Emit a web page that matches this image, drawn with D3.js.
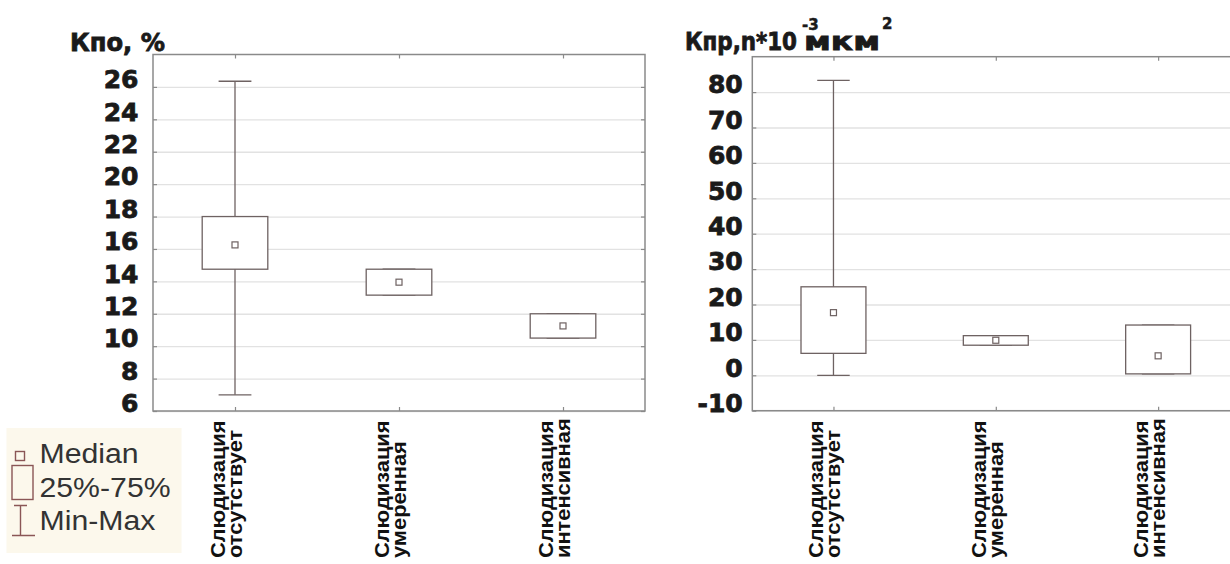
<!DOCTYPE html>
<html>
<head>
<meta charset="utf-8">
<script src="https://cdn.jsdelivr.net/npm/d3@7"></script>
<style>
  body { margin: 0; background: #fff; }
  svg { display: block; }
</style>
</head>
<body>
<div id="viz"></div>
<script>
var categories = ['Слюдизация\nотсутствует', 'Слюдизация\nумеренная', 'Слюдизация\nинтенсивная'];

// Кпо, %
var kpoMin    = [7.0, 13.15, 10.5];
var kpoQ1     = [14.75, 13.15, 10.5];
var kpoMedian = [16.25, 13.95, 11.25];
var kpoQ3     = [18.0, 14.75, 12.0];
var kpoMax    = [26.35, 14.75, 12.0];
var kpoTicks  = [6, 8, 10, 12, 14, 16, 18, 20, 22, 24, 26];

// Кпр
var kprMin    = [0.0, 8.5, 0.4];
var kprQ1     = [6.2, 8.5, 0.4];
var kprMedian = [17.7, 9.9, 5.5];
var kprQ3     = [25.0, 11.2, 14.2];
var kprMax    = [83.3, 11.2, 14.2];
var kprTicks  = [-10, 0, 10, 20, 30, 40, 50, 60, 70, 80];

var legendItems = ['Median', '25%-75%', 'Min-Max'];

var frameColor = '#8a8a8a',
    gridColor = '#e2e2e2',
    boxColor = '#6e6262',
    legendColor = '#8a5656',
    inkColor = '#1a1a1a';

var svg = d3.select('#viz').append('svg')
    .attr('width', 1230)
    .attr('height', 564);

function heavy(t, size) {
  t.style('font-family', 'DejaVu Sans')
   .style('font-weight', 'bold')
   .style('font-size', size + 'px')
   .style('fill', inkColor)
   .style('stroke', inkColor)
   .style('stroke-width', 0.8);
  return t;
}

function drawPanel(p) {
  var g = svg.append('g')
      .attr('transform', 'translate(' + p.left + ',' + p.top + ')');

  var x = d3.scalePoint()
      .domain(categories)
      .range([0, p.width])
      .padding(0.5);
  var y = d3.scaleLinear()
      .domain(p.domain)
      .range([p.height, 0]);
  var step = x.step();

  var rows = categories.map(function(c, i) {
    return { cat: c, min: p.min[i], q1: p.q1[i], med: p.median[i], q3: p.q3[i], max: p.max[i] };
  });

  // grid lines
  g.append('g')
      .call(d3.axisLeft(y).tickValues(p.ticks).tickSize(-p.width).tickFormat(''))
      .call(function(a) { a.select('.domain').remove(); })
      .selectAll('line')
      .attr('stroke', gridColor)
      .attr('stroke-width', 1.3);

  // frame
  g.append('rect')
      .attr('width', p.width)
      .attr('height', p.height)
      .attr('fill', 'none')
      .attr('stroke', frameColor)
      .attr('stroke-width', 1.5);

  // small inner ticks
  var tickAxes = [
    [d3.axisLeft(y).tickValues(p.ticks), '0,0'],
    [d3.axisRight(y).tickValues(p.ticks), p.width + ',0'],
    [d3.axisTop(x), '0,0'],
    [d3.axisBottom(x), '0,' + p.height]
  ];
  tickAxes.forEach(function(t) {
    g.append('g')
        .attr('transform', 'translate(' + t[1] + ')')
        .call(t[0].tickSize(-4).tickFormat(''))
        .call(function(a) { a.select('.domain').remove(); })
        .selectAll('line')
        .attr('stroke', frameColor)
        .attr('stroke-width', 1.2);
  });

  // y tick labels (plain hyphen for negatives, as in the original)
  g.append('g')
      .call(d3.axisLeft(y).tickValues(p.ticks).tickSize(0).tickPadding(p.pad)
        .tickFormat(function(d) { return String(d); }))
      .call(function(a) { a.select('.domain').remove(); })
      .selectAll('text')
      .attr('dy', '0.03em')
      .call(heavy, 25);

  // whiskers
  var box = g.selectAll('.box').data(rows).enter().append('g')
      .attr('transform', function(d) { return 'translate(' + x(d.cat) + ',0)'; });

  box.append('line')
      .attr('y1', function(d) { return y(d.min); })
      .attr('y2', function(d) { return y(d.max); })
      .attr('stroke', boxColor)
      .attr('stroke-width', 1.3);

  ['min', 'max'].forEach(function(k) {
    box.append('line')
        .attr('x1', -step * 0.1)
        .attr('x2', step * 0.1)
        .attr('y1', function(d) { return y(d[k]); })
        .attr('y2', function(d) { return y(d[k]); })
        .attr('stroke', boxColor)
        .attr('stroke-width', 1.3);
  });

  box.append('rect')
      .attr('x', -step * 0.2)
      .attr('width', step * 0.4)
      .attr('y', function(d) { return y(d.q3); })
      .attr('height', function(d) { return y(d.q1) - y(d.q3); })
      .attr('fill', '#fff')
      .attr('stroke', boxColor)
      .attr('stroke-width', 1.3);

  box.append('rect')
      .attr('x', -3)
      .attr('width', 6)
      .attr('y', function(d) { return y(d.med) - 3; })
      .attr('height', 6)
      .attr('fill', '#fff')
      .attr('stroke', boxColor)
      .attr('stroke-width', 1.2);

  // category labels, rotated
  var lab = g.selectAll('.cat').data(categories).enter().append('text')
      .attr('transform', function(d) {
        return 'translate(' + x(d) + ',' + (558 - p.top) + ') rotate(-90) scale(1.04,1)';
      })
      .style('font-family', 'Liberation Sans')
      .style('font-weight', 'bold')
      .style('font-size', '21px')
      .style('fill', '#111');
  lab.selectAll('tspan')
      .data(function(d) { return d.split('\n'); })
      .enter().append('tspan')
      .attr('x', 0)
      .attr('y', function(d, i) { return i === 0 ? -10 : 7; })
      .text(function(d) { return d; });
}

drawPanel({
  left: 153, top: 54.5, width: 492, height: 356.5,
  domain: [6, 28], ticks: kpoTicks, pad: 14.5,
  min: kpoMin, q1: kpoQ1, median: kpoMedian, q3: kpoQ3, max: kpoMax
});

drawPanel({
  left: 752.3, top: 56.7, width: 487, height: 354,
  domain: [-10, 90], ticks: kprTicks, pad: 9.6,
  min: kprMin, q1: kprQ1, median: kprMedian, q3: kprQ3, max: kprMax
});

// titles
svg.append('text').attr('x', 70).attr('y', 50.5)
    .attr('textLength', 95).attr('lengthAdjust', 'spacingAndGlyphs')
    .call(heavy, 24).text('Кпо, %');

var t2 = svg.append('text').call(heavy, 24);
t2.append('tspan').attr('x', 685).attr('y', 50)
    .attr('textLength', 112).attr('lengthAdjust', 'spacingAndGlyphs')
    .text('Кпр,n*10');
t2.append('tspan').attr('x', 802).attr('y', 30)
    .style('font-size', '15px').style('stroke-width', 0.5)
    .text('-3');
t2.append('tspan').attr('x', 804).attr('y', 50)
    .attr('textLength', 76).attr('lengthAdjust', 'spacingAndGlyphs')
    .text('мкм');
t2.append('tspan').attr('x', 882).attr('y', 29)
    .style('font-size', '15px').style('stroke-width', 0.5)
    .text('2');

// legend
var legend = svg.append('g');
legend.append('rect')
    .attr('x', 6.5).attr('y', 428)
    .attr('width', 175).attr('height', 125)
    .attr('fill', '#fcf8ec');

legend.append('rect')
    .attr('x', 15.5).attr('y', 451.5).attr('width', 9).attr('height', 9)
    .attr('fill', 'none').attr('stroke', legendColor).attr('stroke-width', 1.4);
legend.append('rect')
    .attr('x', 12).attr('y', 465.5).attr('width', 21).attr('height', 34)
    .attr('fill', 'none').attr('stroke', legendColor).attr('stroke-width', 1.4);
legend.append('path')
    .attr('d', 'M14,505.5H27M20.5,505.5V535.5M12,535.5H35')
    .attr('fill', 'none').attr('stroke', legendColor).attr('stroke-width', 1.4);

legend.selectAll('.lt').data(legendItems).enter().append('text')
    .attr('transform', function(d, i) { return 'translate(39.5,' + (463 + i * 33.5) + ') scale(1.12,1)'; })
    .style('font-family', 'Liberation Sans')
    .style('font-size', '27px')
    .style('fill', '#333')
    .text(function(d) { return d; });
</script>
</body>
</html>
